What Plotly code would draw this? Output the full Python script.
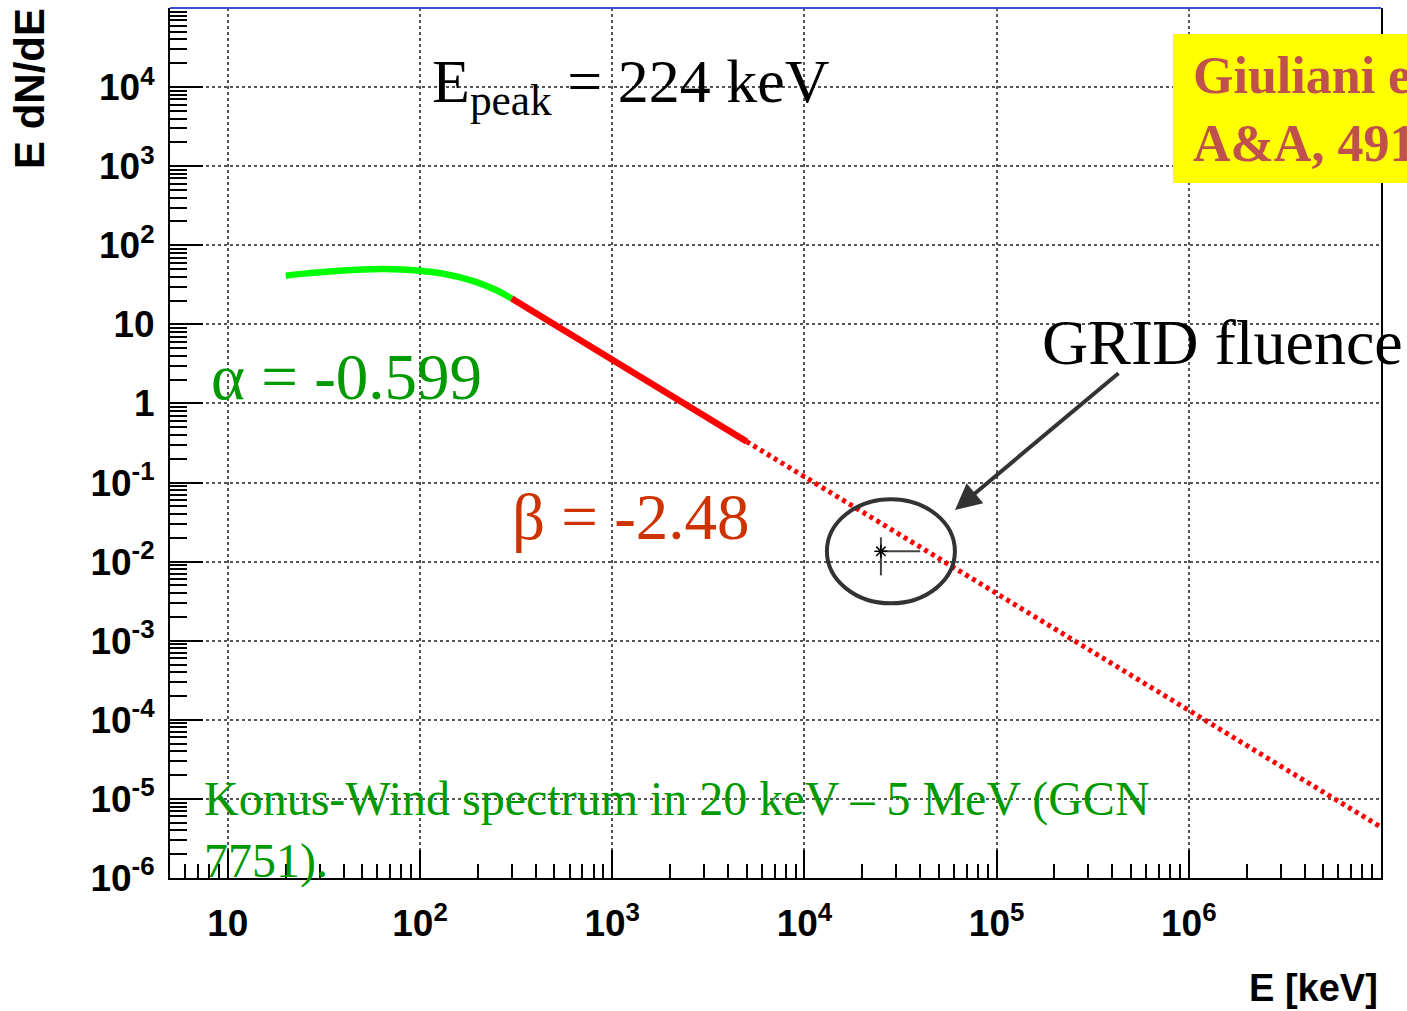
import math
import plotly.graph_objects as go

# ---- data -------------------------------------------------------------
# Konus-Wind Band fit, low-energy branch (E < E_break), E dN/dE vs E [keV]
energy_low = [20, 25, 30, 40, 50, 64, 80, 100, 130, 160, 200, 250, 300]
flux_low = [41.3, 43.8, 45.6, 48.1, 49.4, 50.0, 49.5, 47.7, 44.0, 39.6, 33.7, 27.0, 21.2]

# high-energy power-law branch inside the fitted band (up to 5 MeV)
energy_high = [300, 5000]
flux_high = [21.2, 0.33]

# extrapolation of the high-energy branch
energy_extrap = [5000, 1.0e7]
flux_extrap = [0.33, 4.4e-6]

# GRID fluence point
grid_energy = [25000]
grid_flux = [0.0135]
grid_flux_err = [0.0068]
grid_energy_err_plus = [15000]
grid_energy_err_minus = [0]

# axis ticks
x_tick_vals = [10, 1e2, 1e3, 1e4, 1e5, 1e6]
x_tick_text = ["10", "10<sup>2</sup>", "10<sup>3</sup>", "10<sup>4</sup>",
               "10<sup>5</sup>", "10<sup>6</sup>"]
y_tick_vals = [1e-6, 1e-5, 1e-4, 1e-3, 1e-2, 1e-1, 1, 10, 1e2, 1e3, 1e4]
y_tick_text = ["10<sup>-6</sup>", "10<sup>-5</sup>", "10<sup>-4</sup>", "10<sup>-3</sup>",
               "10<sup>-2</sup>", "10<sup>-1</sup>", "1", "10", "10<sup>2</sup>",
               "10<sup>3</sup>", "10<sup>4</sup>"]

# ---- layout geometry ---------------------------------------------------
W, H = 1407, 1011
ML, MR, MT, MB = 170, 26, 8, 133
X_RANGE = [math.log10(5), 7.0]
Y_RANGE = [-6.0, 5.0]


def minor_ticks(lo, hi):
    vals = []
    for n in range(int(math.floor(lo)) - 1, int(math.ceil(hi)) + 1):
        for k in range(2, 10):
            v = k * 10 ** n
            if 10 ** lo < v < 10 ** hi:
                vals.append(v)
    return vals


def paper_x(px):
    return (px - ML) / (W - ML - MR)


def paper_y(py):
    return 1 - (py - MT) / (H - MT - MB)


def data_to_paper_x(v):
    return (math.log10(v) - X_RANGE[0]) / (X_RANGE[1] - X_RANGE[0])


def data_to_paper_y(v):
    return (math.log10(v) - Y_RANGE[0]) / (Y_RANGE[1] - Y_RANGE[0])


SERIF = "Liberation Serif, Times New Roman, serif"
SANS = "Liberation Sans, Arial, Helvetica, sans-serif"

fig = go.Figure()

fig.add_trace(go.Scatter(
    x=energy_low, y=flux_low, mode="lines",
    line=dict(color="#00ff00", width=6.5, shape="spline"),
    showlegend=False, hoverinfo="skip"))

fig.add_trace(go.Scatter(
    x=energy_high, y=flux_high, mode="lines",
    line=dict(color="#ff0000", width=6.5),
    showlegend=False, hoverinfo="skip"))

fig.add_trace(go.Scatter(
    x=energy_extrap, y=flux_extrap, mode="lines",
    line=dict(color="#ff0000", width=5, dash="4px,4px"),
    showlegend=False, hoverinfo="skip"))

fig.add_trace(go.Scatter(
    x=grid_energy, y=grid_flux, mode="markers",
    marker=dict(symbol="asterisk-open", size=11, color="black",
                line=dict(color="black", width=1.5)),
    error_y=dict(type="data", array=grid_flux_err, symmetric=True,
                 color="#444", thickness=2, width=0),
    error_x=dict(type="data", array=grid_energy_err_plus,
                 arrayminus=grid_energy_err_minus, symmetric=False,
                 color="#444", thickness=2, width=0),
    showlegend=False, hoverinfo="skip"))

axis_common = dict(
    type="log", showline=True, linecolor="black", linewidth=2,
    ticks="inside", tickcolor="black", tickwidth=2,
    showgrid=True, gridcolor="#555", gridwidth=1.5, griddash="dot",
    zeroline=False, tickmode="array",
    tickfont=dict(family=SANS, size=37, color="black", weight="bold"),
)

fig.update_xaxes(
    **axis_common, range=X_RANGE, tickvals=x_tick_vals, ticktext=x_tick_text,
    ticklen=28, mirror=False, ticklabelstandoff=12,
    minor=dict(tickmode="array", tickvals=minor_ticks(*X_RANGE), ticks="inside",
               ticklen=14, tickwidth=2, tickcolor="black", showgrid=False),
)
fig.update_yaxes(
    **axis_common, range=Y_RANGE, tickvals=y_tick_vals, ticktext=y_tick_text,
    ticklen=33, mirror=True, ticklabelstandoff=6,
    minor=dict(tickmode="array", tickvals=minor_ticks(*Y_RANGE), ticks="inside",
               ticklen=17, tickwidth=2, tickcolor="black", showgrid=False),
)

shapes = [
    # top frame edge
    dict(type="line", xref="paper", yref="paper", x0=0, x1=1, y0=1, y1=1,
         line=dict(color="#3a4fd8", width=2)),
    # ring around the GRID point
    dict(type="circle", xref="paper", yref="paper",
         xsizemode="pixel", ysizemode="pixel",
         xanchor=data_to_paper_x(grid_energy[0]),
         yanchor=data_to_paper_y(grid_flux[0]),
         x0=-54, x1=74, y0=-52, y1=52,
         line=dict(color="#333333", width=4)),
    # reference box
    dict(type="rect", xref="paper", yref="paper",
         x0=paper_x(1173), x1=paper_x(1430), y0=paper_y(183), y1=paper_y(34),
         fillcolor="#ffff00", line=dict(width=0)),
]

annotations = [
    dict(text="E<sub>peak</sub> = 224 keV", x=paper_x(430), y=paper_y(85),
         xanchor="left", yanchor="middle",
         font=dict(family=SERIF, size=62, color="black")),
    dict(text="\u03b1 = -0.599", x=paper_x(209), y=paper_y(377),
         xanchor="left", yanchor="middle",
         font=dict(family=SERIF, size=65, color="#009900")),
    dict(text="\u03b2 = -2.48", x=paper_x(510), y=paper_y(517),
         xanchor="left", yanchor="middle",
         font=dict(family=SERIF, size=65, color="#cc3300")),
    dict(text="GRID fluence", x=paper_x(1040), y=paper_y(343),
         xanchor="left", yanchor="middle",
         font=dict(family=SERIF, size=64, color="black")),
    dict(text="Konus-Wind spectrum in 20 keV \u2013 5 MeV (GCN<br>7751).",
         x=paper_x(202), y=paper_y(830), xanchor="left", yanchor="middle",
         align="left",
         font=dict(family=SERIF, size=48, color="#009900")),
    dict(text="<b>Giuliani et al. 2008<br>A&amp;A, 491, L25</b>",
         x=paper_x(1191), y=paper_y(109), xanchor="left", yanchor="middle",
         align="left",
         font=dict(family=SERIF, size=52, color="#c0504d")),
    # arrow towards the ring
    dict(text="", x=paper_x(955), y=paper_y(510), showarrow=True,
         ax=165, ay=-138, arrowhead=2, arrowsize=1.3, arrowwidth=4,
         arrowcolor="#333333"),
    # axis titles
    dict(text="<b>E dN/dE</b>", x=paper_x(30), y=paper_y(89), textangle=-90,
         xanchor="center", yanchor="middle",
         font=dict(family=SANS, size=42, color="black")),
    dict(text="<b>E [keV]</b>", x=paper_x(1380), y=paper_y(988),
         xanchor="right", yanchor="middle",
         font=dict(family=SANS, size=38, color="black")),
]
for a in annotations:
    a.setdefault("xref", "paper")
    a.setdefault("yref", "paper")
    a.setdefault("showarrow", False)

fig.update_layout(
    width=W, height=H,
    margin=dict(l=ML, r=MR, t=MT, b=MB),
    plot_bgcolor="white", paper_bgcolor="white",
    shapes=shapes, annotations=annotations,
    showlegend=False,
)

fig.write_html("out.html")
